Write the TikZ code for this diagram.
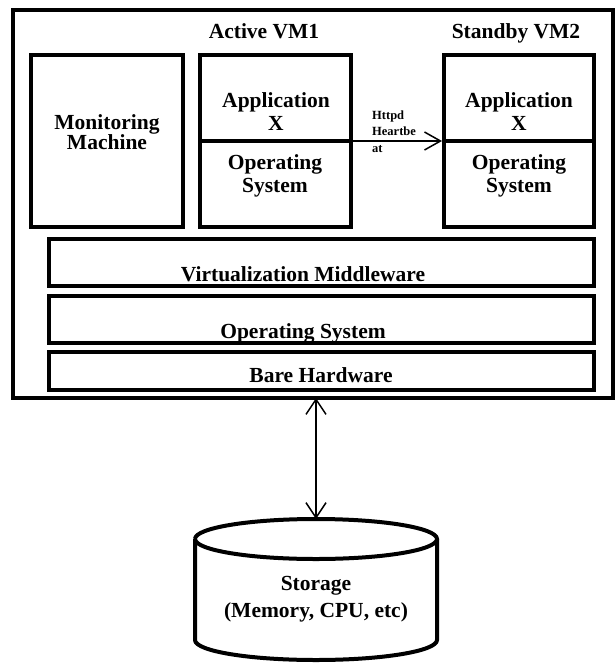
\documentclass[tikz,border=0pt]{standalone}
\usepackage{fontspec}
\setmainfont{Liberation Serif}
\usetikzlibrary{arrows.meta}
\begin{document}
\begin{tikzpicture}[x=1pt,y=-1pt,
  box/.style={draw, line width=4.5pt},
  outerbox/.style={draw, line width=4pt},
  big/.style={font=\fontsize{21.5}{23}\selectfont\bfseries, inner sep=0pt, align=center},
  small/.style={font=\fontsize{12.5}{16.5}\selectfont\bfseries, inner sep=0pt, align=left},
  link/.style={line width=1.5pt, {Straight Barb[length=15pt,width=20pt]}-{Straight Barb[length=15pt,width=20pt]}},
  onearrow/.style={line width=1.5pt, -{Straight Barb[length=16pt,width=18pt]}}]
\useasboundingbox (0,0) rectangle (615,664);
% outer host box
\draw[outerbox] (12.5,10) rectangle (613,398);
\coordinate (hostbottom) at (316,398);
% upper boxes
\draw[box] (31,55) rectangle (183,227);
\draw[box] (200,55) rectangle (351,227);
\draw[box] (200,141) -- (351,141);
\draw[box] (444,55) rectangle (594,227);
\draw[box] (444,141) -- (594,141);
\coordinate (activeright) at (351,141);
\coordinate (standbyleft) at (442,141);
% layers
\draw[box] (49,239) rectangle (594,286);
\draw[box] (49,296) rectangle (594,343);
\draw[box] (49,352) rectangle (594,390);
% texts
\node[big, anchor=base] (vm1) at (264,38) {Active VM1};
\node[big, anchor=base] (vm2) at (516,38) {Standby VM2};
\node[big, font=\fontsize{21.5}{19.5}\selectfont\bfseries] (mon) at (107,132) {Monitoring\\Machine};
\node[big] (app1) at (276,112) {Application\\X};
\node[big] (os1) at (275,176) {Operating\\System};
\node[big] (app2) at (519,112) {Application\\X};
\node[big] (os2) at (519,176) {Operating\\System};
\node[big, anchor=base] (virt) at (303,281) {Virtualization Middleware};
\node[big, anchor=base] (os) at (303,338) {Operating System};
\node[big, anchor=base] (bh) at (321,382) {Bare Hardware};
\node[small, anchor=north west] (hb) at (372,110.5) {Httpd\\Heartbe\\at};
% heartbeat arrow
\draw[onearrow] (activeright) -- (standbyleft);
% storage cylinder
\coordinate (cyltop) at (316,519);
\draw[line width=4pt] (195,539) arc[start angle=180, end angle=0, x radius=121, y radius=20]
  arc[start angle=0, end angle=-180, x radius=121, y radius=20];
\draw[line width=4pt] (195,539) -- (195,640) arc[start angle=180, end angle=0, x radius=121, y radius=20] -- (437,539);
\node[big, font=\fontsize{21.5}{27}\selectfont\bfseries] (stor) at (316,599) {Storage\\(Memory, CPU, etc)};
\draw[link] (hostbottom) -- (cyltop);
\end{tikzpicture}
\end{document}
